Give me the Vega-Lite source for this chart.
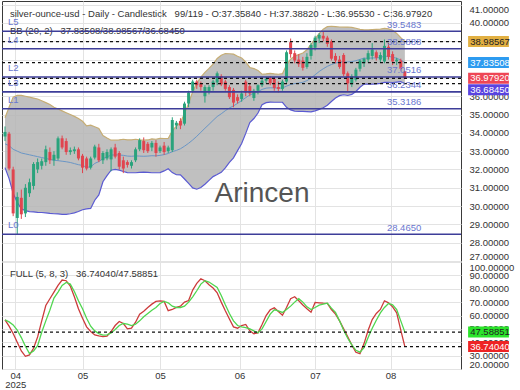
{
"$schema": "https://vega.github.io/schema/vega-lite/v6.json",
"padding": 0,
"background": "#ffffff",
"spacing": 1,
"bounds": "flush",
"config": {
  "view": {"stroke": "#3a3a3a", "strokeWidth": 1},
  "font": "Liberation Sans",
  "scale": {"continuousPadding": 0},
  "axis": {"labelFont": "Liberation Sans", "labelFontSize": 9.5, "labelColor": "#333333", "gridColor": "#e3e3e3", "gridWidth": 1, "domain": false, "ticks": false, "tickSize": 0, "title": null, "labelOverlap": false},
  "text": {"font": "Liberation Sans"}
},
"datasets": {
  "bars": [
{"i":0,"o":33.8,"h":34.35,"l":33.55,"c":34.05,"u":34.82,"m":33.4,"b":32.1,"k":56.7,"d":56.7},
{"i":1,"o":33.95,"h":34.05,"l":31.95,"c":32.05,"u":35.4,"m":33.3,"b":31.5,"k":52,"d":55.2},
{"i":2,"o":32.0,"h":32.15,"l":29.45,"c":29.6,"u":35.95,"m":33.1,"b":30.7,"k":46.5,"d":53},
{"i":3,"o":29.35,"h":30.75,"l":28.465,"c":30.5,"u":36.05,"m":33.0,"b":30.2,"k":40,"d":49},
{"i":4,"o":30.45,"h":30.9,"l":29.3,"c":29.55,"u":36.05,"m":32.9,"b":29.85,"k":33.5,"d":43.5},
{"i":5,"o":29.6,"h":31.2,"l":29.4,"c":31.0,"u":36.0,"m":32.85,"b":29.75,"k":29.5,"d":37},
{"i":6,"o":30.7,"h":31.5,"l":30.5,"c":31.3,"u":35.95,"m":32.8,"b":29.7,"k":30.5,"d":31.5},
{"i":7,"o":31.1,"h":32.4,"l":30.9,"c":32.3,"u":35.9,"m":32.75,"b":29.68,"k":35.5,"d":33.5},
{"i":8,"o":32.0,"h":32.6,"l":31.8,"c":32.4,"u":35.85,"m":32.7,"b":29.66,"k":44,"d":37.5},
{"i":9,"o":32.2,"h":32.6,"l":32.0,"c":32.45,"u":35.75,"m":32.65,"b":29.65,"k":56,"d":47.5},
{"i":10,"o":32.4,"h":33.3,"l":32.2,"c":33.1,"u":35.65,"m":32.6,"b":29.63,"k":67.5,"d":56},
{"i":11,"o":32.95,"h":33.2,"l":32.3,"c":32.5,"u":35.55,"m":32.55,"b":29.6,"k":72.5,"d":64},
{"i":12,"o":32.5,"h":33.0,"l":32.2,"c":32.8,"u":35.4,"m":32.5,"b":29.58,"k":77.5,"d":73},
{"i":13,"o":32.6,"h":33.8,"l":32.5,"c":33.7,"u":35.3,"m":32.48,"b":29.57,"k":82.5,"d":77.5},
{"i":14,"o":33.7,"h":33.85,"l":33.1,"c":33.2,"u":35.2,"m":32.45,"b":29.55,"k":86.5,"d":82.5},
{"i":15,"o":33.55,"h":33.7,"l":32.8,"c":32.95,"u":35.1,"m":32.42,"b":29.55,"k":86,"d":84.7},
{"i":16,"o":32.95,"h":33.2,"l":32.8,"c":33.05,"u":35.0,"m":32.38,"b":29.58,"k":82,"d":83.5},
{"i":17,"o":33.0,"h":33.25,"l":32.85,"c":33.1,"u":34.9,"m":32.32,"b":29.63,"k":74,"d":78},
{"i":18,"o":33.1,"h":33.2,"l":32.5,"c":32.6,"u":34.78,"m":32.26,"b":29.7,"k":65,"d":71},
{"i":19,"o":32.75,"h":32.85,"l":31.8,"c":32.1,"u":34.63,"m":32.22,"b":29.8,"k":58,"d":65},
{"i":20,"o":32.6,"h":32.7,"l":31.95,"c":32.05,"u":34.38,"m":32.12,"b":29.85,"k":51.5,"d":58},
{"i":21,"o":32.1,"h":32.7,"l":32.0,"c":32.6,"u":34.42,"m":32.14,"b":29.87,"k":48,"d":52},
{"i":22,"o":32.65,"h":33.35,"l":32.55,"c":33.25,"u":34.33,"m":32.33,"b":30.32,"k":45.5,"d":48.5},
{"i":23,"o":33.2,"h":33.4,"l":32.4,"c":32.5,"u":34.24,"m":32.43,"b":30.61,"k":44.8,"d":46.5},
{"i":24,"o":32.5,"h":33.0,"l":32.3,"c":32.9,"u":33.85,"m":32.59,"b":31.33,"k":44.2,"d":45.3},
{"i":25,"o":32.6,"h":33.1,"l":32.5,"c":32.95,"u":33.72,"m":32.69,"b":31.66,"k":44.5,"d":45.5},
{"i":26,"o":32.55,"h":33.2,"l":31.9,"c":33.1,"u":33.6,"m":32.78,"b":31.96,"k":48,"d":47},
{"i":27,"o":33.2,"h":33.4,"l":32.6,"c":32.7,"u":33.6,"m":32.8,"b":32.0,"k":52.5,"d":49.5},
{"i":28,"o":32.9,"h":33.0,"l":32.0,"c":32.15,"u":33.62,"m":32.79,"b":31.96,"k":55.5,"d":52.5},
{"i":29,"o":32.5,"h":32.7,"l":31.8,"c":32.05,"u":33.65,"m":32.77,"b":31.89,"k":54,"d":54},
{"i":30,"o":32.4,"h":32.5,"l":32.1,"c":32.25,"u":33.62,"m":32.73,"b":31.83,"k":50,"d":53.5},
{"i":31,"o":32.2,"h":32.5,"l":32.05,"c":32.4,"u":33.62,"m":32.72,"b":31.82,"k":50.5,"d":52.5},
{"i":32,"o":32.5,"h":33.2,"l":32.4,"c":33.1,"u":33.65,"m":32.74,"b":31.82,"k":55,"d":53.5},
{"i":33,"o":33.1,"h":33.7,"l":33.0,"c":33.6,"u":33.62,"m":32.73,"b":31.84,"k":61,"d":56},
{"i":34,"o":33.55,"h":33.75,"l":32.9,"c":33.05,"u":33.6,"m":32.72,"b":31.85,"k":63.2,"d":59},
{"i":35,"o":33.4,"h":33.5,"l":32.9,"c":33.0,"u":33.61,"m":32.73,"b":31.84,"k":66,"d":61.5},
{"i":36,"o":33.2,"h":33.55,"l":33.0,"c":33.45,"u":33.67,"m":32.75,"b":31.82,"k":68.5,"d":64},
{"i":37,"o":33.45,"h":33.6,"l":32.7,"c":32.9,"u":33.65,"m":32.74,"b":31.82,"k":70.5,"d":66},
{"i":38,"o":33.0,"h":33.3,"l":32.9,"c":33.2,"u":33.7,"m":32.77,"b":31.83,"k":71,"d":69},
{"i":39,"o":33.3,"h":33.5,"l":32.8,"c":32.95,"u":33.69,"m":32.81,"b":31.92,"k":70.5,"d":70.5},
{"i":40,"o":33.0,"h":33.3,"l":32.9,"c":33.2,"u":33.69,"m":32.87,"b":32.04,"k":63.6,"d":69.5},
{"i":41,"o":33.05,"h":34.85,"l":32.95,"c":34.7,"u":34.11,"m":32.97,"b":31.83,"k":64.5,"d":67},
{"i":42,"o":34.4,"h":34.65,"l":34.2,"c":34.55,"u":34.37,"m":33.04,"b":31.71,"k":66,"d":66},
{"i":43,"o":34.65,"h":34.8,"l":34.2,"c":34.4,"u":34.56,"m":33.13,"b":31.7,"k":67,"d":66},
{"i":44,"o":34.5,"h":35.7,"l":34.4,"c":35.6,"u":35.05,"m":33.27,"b":31.48,"k":70,"d":67},
{"i":45,"o":35.6,"h":36.3,"l":35.4,"c":36.2,"u":35.61,"m":33.43,"b":31.24,"k":71.2,"d":70},
{"i":46,"o":36.3,"h":36.9,"l":36.2,"c":36.8,"u":36.24,"m":33.61,"b":30.99,"k":79,"d":74},
{"i":47,"o":36.8,"h":36.9,"l":36.4,"c":36.6,"u":36.7,"m":33.81,"b":30.92,"k":84,"d":78.5},
{"i":48,"o":36.7,"h":36.8,"l":36.3,"c":36.5,"u":37.04,"m":34.03,"b":31.01,"k":87.5,"d":83.5},
{"i":49,"o":36.0,"h":36.6,"l":35.65,"c":36.5,"u":37.3,"m":34.25,"b":31.19,"k":86,"d":86},
{"i":50,"o":36.25,"h":36.6,"l":36.1,"c":36.5,"u":37.52,"m":34.46,"b":31.4,"k":83,"d":85},
{"i":51,"o":36.5,"h":36.9,"l":36.3,"c":36.8,"u":37.75,"m":34.68,"b":31.61,"k":80.5,"d":83},
{"i":52,"o":36.75,"h":37.35,"l":36.6,"c":37.25,"u":38.06,"m":34.89,"b":31.72,"k":77,"d":80.9},
{"i":53,"o":37.1,"h":37.2,"l":36.55,"c":36.65,"u":38.24,"m":35.04,"b":31.84,"k":70,"d":75},
{"i":54,"o":36.8,"h":36.9,"l":36.3,"c":36.4,"u":38.33,"m":35.21,"b":32.09,"k":63.5,"d":68},
{"i":55,"o":36.5,"h":36.6,"l":35.85,"c":35.95,"u":38.32,"m":35.36,"b":32.39,"k":57.4,"d":61.5},
{"i":56,"o":36.35,"h":36.45,"l":35.4,"c":35.65,"u":38.3,"m":35.47,"b":32.63,"k":51.5,"d":56},
{"i":57,"o":35.95,"h":36.1,"l":35.6,"c":35.75,"u":38.18,"m":35.61,"b":33.03,"k":50.5,"d":52.5},
{"i":58,"o":35.85,"h":36.3,"l":35.7,"c":36.15,"u":38.09,"m":35.76,"b":33.42,"k":52.5,"d":51.5},
{"i":59,"o":36.8,"h":36.9,"l":36.0,"c":36.2,"u":37.87,"m":35.92,"b":33.97,"k":53.3,"d":51},
{"i":60,"o":36.55,"h":36.7,"l":36.0,"c":36.15,"u":37.57,"m":36.07,"b":34.56,"k":48.5,"d":50},
{"i":61,"o":35.9,"h":36.4,"l":35.75,"c":36.3,"u":37.51,"m":36.15,"b":34.78,"k":46.4,"d":48.5},
{"i":62,"o":36.3,"h":36.65,"l":36.1,"c":36.6,"u":37.41,"m":36.25,"b":35.08,"k":47,"d":47.1},
{"i":63,"o":36.6,"h":36.95,"l":36.5,"c":36.85,"u":37.2,"m":36.37,"b":35.54,"k":53.3,"d":50},
{"i":64,"o":36.85,"h":37.05,"l":36.7,"c":36.95,"u":37.22,"m":36.44,"b":35.65,"k":60,"d":55.5},
{"i":65,"o":37.0,"h":37.1,"l":36.6,"c":36.7,"u":37.25,"m":36.46,"b":35.68,"k":64.3,"d":61},
{"i":66,"o":36.95,"h":37.05,"l":36.3,"c":36.45,"u":37.22,"m":36.45,"b":35.67,"k":65.7,"d":64.3},
{"i":67,"o":36.5,"h":36.8,"l":36.2,"c":36.4,"u":37.2,"m":36.44,"b":35.67,"k":63,"d":63.5},
{"i":68,"o":36.4,"h":36.9,"l":36.3,"c":36.8,"u":37.23,"m":36.45,"b":35.67,"k":60.2,"d":62.3},
{"i":69,"o":36.8,"h":38.5,"l":36.7,"c":38.4,"u":37.7,"m":36.55,"b":35.39,"k":66,"d":64.5},
{"i":70,"o":38.95,"h":39.15,"l":38.1,"c":38.3,"u":38.02,"m":36.64,"b":35.25,"k":72.6,"d":67},
{"i":71,"o":38.35,"h":38.5,"l":37.8,"c":37.95,"u":38.19,"m":36.69,"b":35.19,"k":74,"d":70},
{"i":72,"o":38.0,"h":38.3,"l":37.6,"c":37.75,"u":38.27,"m":36.72,"b":35.17,"k":71,"d":72.6},
{"i":73,"o":37.95,"h":38.15,"l":37.4,"c":37.55,"u":38.36,"m":36.76,"b":35.17,"k":67.8,"d":70},
{"i":74,"o":37.6,"h":38.35,"l":37.5,"c":38.15,"u":38.54,"m":36.85,"b":35.16,"k":65,"d":66.5},
{"i":75,"o":38.2,"h":38.9,"l":38.0,"c":38.8,"u":38.83,"m":36.99,"b":35.15,"k":62.5,"d":64.5},
{"i":76,"o":38.65,"h":39.3,"l":38.5,"c":39.2,"u":39.14,"m":37.17,"b":35.2,"k":69.8,"d":66},
{"i":77,"o":39.15,"h":39.45,"l":38.9,"c":39.35,"u":39.42,"m":37.35,"b":35.28,"k":69.5,"d":67.8},
{"i":78,"o":39.3,"h":39.5483,"l":39.0,"c":39.15,"u":39.66,"m":37.5,"b":35.37,"k":69.2,"d":68.5},
{"i":79,"o":39.2,"h":39.3,"l":38.7,"c":38.85,"u":39.8,"m":37.63,"b":35.51,"k":69,"d":69.2},
{"i":80,"o":39.0,"h":39.1,"l":37.95,"c":38.05,"u":39.82,"m":37.73,"b":35.71,"k":64.5,"d":65.5},
{"i":81,"o":38.2,"h":38.35,"l":37.8,"c":37.95,"u":39.8,"m":37.81,"b":35.9,"k":61,"d":62.3},
{"i":82,"o":38.0,"h":38.2,"l":37.5,"c":37.6,"u":39.78,"m":37.86,"b":36.03,"k":56,"d":56},
{"i":83,"o":38.25,"h":38.35,"l":37.1,"c":37.2,"u":39.77,"m":37.88,"b":36.08,"k":50,"d":49},
{"i":84,"o":37.25,"h":37.35,"l":36.2344,"c":36.7,"u":39.78,"m":37.87,"b":36.04,"k":44,"d":43},
{"i":85,"o":36.65,"h":37.2,"l":36.5,"c":37.1,"u":39.76,"m":37.89,"b":36.1,"k":38,"d":38},
{"i":86,"o":36.9,"h":37.55,"l":36.8,"c":37.45,"u":39.71,"m":37.94,"b":36.26,"k":32.5,"d":34},
{"i":87,"o":37.5,"h":38.0,"l":37.35,"c":37.95,"u":39.65,"m":38.01,"b":36.49,"k":31.5,"d":32.6},
{"i":88,"o":37.8,"h":38.1,"l":37.6,"c":38.05,"u":39.62,"m":38.08,"b":36.66,"k":39,"d":36},
{"i":89,"o":38.0,"h":38.5,"l":37.85,"c":38.35,"u":39.62,"m":38.07,"b":36.66,"k":49,"d":43.5},
{"i":90,"o":38.2,"h":38.9,"l":38.0,"c":38.55,"u":39.64,"m":38.09,"b":36.66,"k":57,"d":50.5},
{"i":91,"o":38.4,"h":38.5,"l":37.95,"c":38.1,"u":39.65,"m":38.09,"b":36.67,"k":61.5,"d":56.5},
{"i":92,"o":38.0,"h":38.4,"l":37.85,"c":38.25,"u":39.66,"m":38.12,"b":36.7,"k":64.5,"d":62},
{"i":93,"o":37.9,"h":39.1,"l":37.8,"c":38.75,"u":39.7,"m":38.18,"b":36.76,"k":71,"d":66},
{"i":94,"o":38.7,"h":38.9,"l":38.0,"c":38.15,"u":39.68,"m":38.18,"b":36.76,"k":69.5,"d":69},
{"i":95,"o":38.3,"h":38.45,"l":37.7,"c":37.9,"u":39.6,"m":38.13,"b":36.74,"k":66.5,"d":68},
{"i":96,"o":37.9,"h":38.1,"l":37.7,"c":38.0,"u":39.43,"m":38.07,"b":36.77,"k":62,"d":64.5},
{"i":97,"o":37.95,"h":38.05,"l":37.4,"c":37.5,"u":39.2,"m":37.98,"b":36.8,"k":49,"d":56},
{"i":98,"o":37.3584,"h":37.3882,"l":36.9553,"c":36.9792,"u":38.98567,"m":37.83508,"b":36.6845,"k":36.7404,"d":47.58851}
  ],
  "levels": [
    {"name": "L5", "v": 39.5483},
    {"name": "L4", "v": 38.5888},
    {"name": "L2", "v": 37.0516},
    {"name": "L3", "v": 36.2344},
    {"name": "L1", "v": 35.3186},
    {"name": "L0", "v": 28.465}
  ],
  "cur": [
    {"kind": "upper", "v": 38.98567},
    {"kind": "mid", "v": 37.83508},
    {"kind": "close", "v": 36.9792},
    {"kind": "lower", "v": 36.6845}
  ],
  "scur": [
    {"kind": "D", "v": 47.58851},
    {"kind": "K", "v": 36.7404}
  ]
},
"vconcat": [
  {
    "width": 459,
    "height": 260,
    "layer": [
      {
        "data": {"name": "bars"},
        "mark": {"type": "area", "color": "#b5b5b5", "opacity": 0.85},
        "encoding": {
          "x": {"field": "i", "type": "quantitative", "scale": {"domain": [-0.735, 111.76], "nice": false, "zero": false, "padding": 0},
                "axis": {"orient": "bottom", "values": [2.5, 19, 38, 57.5, 76, 94.5], "tickCount": 30, "labels": false, "grid": true, "ticks": false, "domain": false, "title": null}},
          "y": {"field": "u", "type": "quantitative", "scale": {"domain": [27, 41.2], "nice": false, "zero": false, "padding": 0},
                "axis": {"orient": "right", "values": [27,28,29,30,31,32,33,34,35,36,37,38,39,40,41], "tickCount": 30, "format": ".5f", "labelFlush": 6, "labelOverlap": false, "labelPadding": 8, "grid": true, "title": null}},
          "y2": {"field": "b"}
        }
      },
      {
        "data": {"name": "bars"},
        "mark": {"type": "line", "color": "#c6ad74", "strokeWidth": 1.2},
        "encoding": {"x": {"field": "i", "type": "quantitative"}, "y": {"field": "u", "type": "quantitative"}}
      },
      {
        "data": {"name": "bars"},
        "mark": {"type": "line", "color": "#5a5ad2", "strokeWidth": 1.2},
        "encoding": {"x": {"field": "i", "type": "quantitative"}, "y": {"field": "b", "type": "quantitative"}}
      },
      {
        "data": {"name": "bars"},
        "mark": {"type": "line", "color": "#6a96c6", "strokeWidth": 1},
        "encoding": {"x": {"field": "i", "type": "quantitative"}, "y": {"field": "m", "type": "quantitative"}}
      },
      {
        "data": {"values": [{}]},
        "mark": {"type": "text", "align": "left", "baseline": "middle", "fontSize": 9.5, "color": "#333333"},
        "encoding": {
          "x": {"datum": 1.2, "type": "quantitative"},
          "y": {"datum": 40.5, "type": "quantitative"},
          "text": {"value": "silver-ounce-usd - Daily - Candlestick\u00a0\u00a0\u00a099/119 - O:37.35840 - H:37.38820 - L:36.95530 - C:36.97920"}
        }
      },
      {
        "data": {"values": [{}]},
        "mark": {"type": "text", "align": "left", "baseline": "middle", "fontSize": 9.5, "color": "#333333"},
        "encoding": {
          "x": {"datum": 1.2, "type": "quantitative"},
          "y": {"datum": 39.55, "type": "quantitative"},
          "text": {"value": "BB (20, 2)\u00a0\u00a0\u00a037.83508/38.98567/36.68450"}
        }
      },
      {
        "data": {"values": [{}]},
        "mark": {"type": "text", "align": "center", "baseline": "middle", "fontSize": 28, "color": "#555555"},
        "encoding": {
          "x": {"datum": 63, "type": "quantitative"},
          "y": {"datum": 30.66, "type": "quantitative"},
          "text": {"value": "Arincen"}
        }
      },
      {
        "data": {"name": "bars"},
        "mark": {"type": "rule", "strokeWidth": 1},
        "encoding": {
          "x": {"field": "i", "type": "quantitative"},
          "y": {"field": "l", "type": "quantitative"},
          "y2": {"field": "h"},
          "color": {"condition": {"test": "datum.c >= datum.o", "value": "#2aa37c"}, "value": "#e0454f"}
        }
      },
      {
        "data": {"name": "bars"},
        "mark": {"type": "bar", "size": 3, "orient": "vertical"},
        "encoding": {
          "x": {"field": "i", "type": "quantitative"},
          "y": {"field": "o", "type": "quantitative"},
          "y2": {"field": "c"},
          "color": {"condition": {"test": "datum.c >= datum.o", "value": "#2aa37c"}, "value": "#e0454f"}
        }
      },
      {
        "data": {"name": "levels"},
        "mark": {"type": "rule", "color": "#3d3d99", "strokeWidth": 1.6},
        "encoding": {"y": {"field": "v", "type": "quantitative"}}
      },
      {
        "data": {"name": "cur"},
        "mark": {"type": "rule", "color": "#111111", "strokeWidth": 1.2, "strokeDash": [3, 3]},
        "encoding": {"y": {"field": "v", "type": "quantitative"}}
      },
      {
        "data": {"name": "levels"},
        "mark": {"type": "text", "align": "left", "baseline": "alphabetic", "dy": -6, "fontSize": 9.5, "color": "#6a77cf"},
        "encoding": {
          "x": {"datum": 0.74, "type": "quantitative"},
          "y": {"field": "v", "type": "quantitative"},
          "text": {"field": "name"}
        }
      },
      {
        "data": {"name": "levels"},
        "mark": {"type": "text", "align": "left", "baseline": "alphabetic", "dy": -3.5, "fontSize": 9.5, "color": "#6a77cf"},
        "encoding": {
          "x": {"datum": 93.6, "type": "quantitative"},
          "y": {"field": "v", "type": "quantitative"},
          "text": {"field": "v", "format": ".4f"}
        }
      },
      {
        "data": {"name": "cur"},
        "transform": [{"filter": "datum.kind != 'lower'"}],
        "mark": {"type": "bar", "orient": "horizontal", "size": 11},
        "encoding": {
          "x": {"datum": 113.5, "type": "quantitative"},
          "x2": {"datum": 123.5},
          "y": {"field": "v", "type": "quantitative"},
          "color": {"condition": [{"test": "datum.kind == 'upper'", "value": "#e2b042"}, {"test": "datum.kind == 'mid'", "value": "#2d9bf0"}], "value": "#ee4655"}
        }
      },
      {
        "data": {"name": "cur"},
        "transform": [{"filter": "datum.kind == 'lower'"}],
        "mark": {"type": "bar", "orient": "horizontal", "size": 11, "yOffset": 6, "color": "#5944e0"},
        "encoding": {
          "x": {"datum": 113.5, "type": "quantitative"},
          "x2": {"datum": 123.5},
          "y": {"field": "v", "type": "quantitative"}
        }
      },
      {
        "data": {"name": "cur"},
        "transform": [{"filter": "datum.kind != 'lower'"}],
        "mark": {"type": "text", "align": "left", "baseline": "middle", "fontSize": 9.5},
        "encoding": {
          "x": {"datum": 114, "type": "quantitative"},
          "y": {"field": "v", "type": "quantitative"},
          "text": {"field": "v", "format": ".5f"},
          "color": {"condition": {"test": "datum.kind == 'upper'", "value": "#222222"}, "value": "#ffffff"}
        }
      },
      {
        "data": {"name": "cur"},
        "transform": [{"filter": "datum.kind == 'lower'"}],
        "mark": {"type": "text", "align": "left", "baseline": "middle", "fontSize": 9.5, "dy": 6, "color": "#ffffff"},
        "encoding": {
          "x": {"datum": 114, "type": "quantitative"},
          "y": {"field": "v", "type": "quantitative"},
          "text": {"field": "v", "format": ".5f"}
        }
      }
    ]
  },
  {
    "width": 459,
    "height": 107,
    "layer": [
      {
        "data": {"name": "bars"},
        "mark": {"type": "line", "color": "#cc3b3b", "strokeWidth": 1.3},
        "encoding": {
          "x": {"field": "i", "type": "quantitative", "scale": {"domain": [-0.735, 111.76], "nice": false, "zero": false, "padding": 0},
                "axis": {"orient": "bottom", "values": [2.5, 19, 38, 57.5, 76, 94.5], "tickCount": 30, "grid": true, "labelPadding": 1, "labelLineHeight": 9.5,
                         "labelExpr": "datum.value == 2.5 ? ['04', '2025'] : datum.value == 19 ? '05' : datum.value == 38 ? '05' : datum.value == 57.5 ? '06' : datum.value == 76 ? '07' : '08'", "title": null}},
          "y": {"field": "k", "type": "quantitative", "scale": {"domain": [20, 100], "nice": false, "zero": false, "padding": 0},
                "axis": {"orient": "right", "values": [20,30,40,50,60,70,80,90,100], "tickCount": 30, "format": ".5f", "labelFlush": true, "labelOverlap": false, "labelPadding": 8, "grid": true, "title": null}}
        }
      },
      {
        "data": {"name": "bars"},
        "mark": {"type": "line", "color": "#4fd64f", "strokeWidth": 1.3},
        "encoding": {"x": {"field": "i", "type": "quantitative"}, "y": {"field": "d", "type": "quantitative"}}
      },
      {
        "data": {"name": "scur"},
        "mark": {"type": "rule", "color": "#111111", "strokeWidth": 1.2, "strokeDash": [3, 3]},
        "encoding": {"y": {"field": "v", "type": "quantitative"}}
      },
      {
        "data": {"values": [{}]},
        "mark": {"type": "text", "align": "left", "baseline": "middle", "fontSize": 9.5, "color": "#333333"},
        "encoding": {
          "x": {"datum": 1.2, "type": "quantitative"},
          "y": {"datum": 91, "type": "quantitative"},
          "text": {"value": "FULL (5, 8, 3)\u00a0\u00a0\u00a036.74040/47.58851"}
        }
      },
      {
        "data": {"name": "scur"},
        "mark": {"type": "bar", "orient": "horizontal", "size": 11},
        "encoding": {
          "x": {"datum": 113.5, "type": "quantitative"},
          "x2": {"datum": 123.5},
          "y": {"field": "v", "type": "quantitative"},
          "color": {"condition": {"test": "datum.kind == 'D'", "value": "#2be42b"}, "value": "#ee2424"}
        }
      },
      {
        "data": {"name": "scur"},
        "mark": {"type": "text", "align": "left", "baseline": "middle", "fontSize": 9.5},
        "encoding": {
          "x": {"datum": 114, "type": "quantitative"},
          "y": {"field": "v", "type": "quantitative"},
          "text": {"field": "v", "format": ".5f"},
          "color": {"condition": {"test": "datum.kind == 'D'", "value": "#222222"}, "value": "#ffffff"}
        }
      }
    ]
  }
]
}
